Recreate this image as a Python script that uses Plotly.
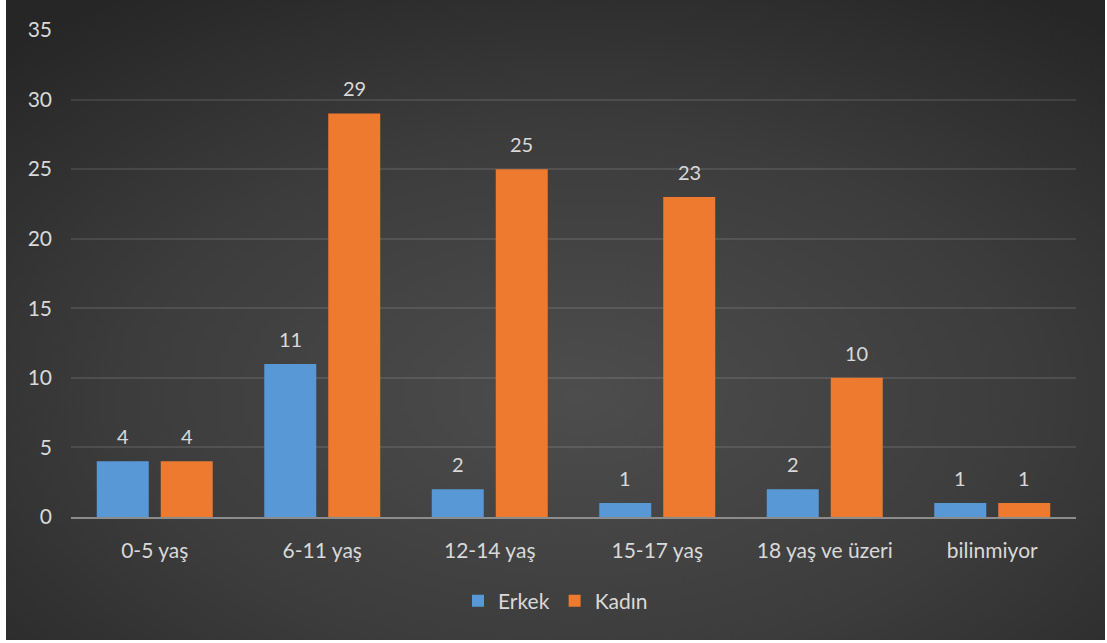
import base64
import plotly.graph_objects as go

categories = ["0-5 yaş", "6-11 yaş", "12-14 yaş", "15-17 yaş", "18 yaş ve üzeri", "bilinmiyor"]
erkek = [4, 11, 2, 1, 2, 1]
kadin = [4, 29, 25, 23, 10, 1]
series_names = ["Erkek", "Kadın"]
y_ticks = [0, 5, 10, 15, 20, 25, 30, 35]

FONT = "Lato"
TXT = "#d9d9d9"

svg = """<svg xmlns='http://www.w3.org/2000/svg' width='1100' height='640' viewBox='0 0 1100 640' preserveAspectRatio='none'>
<defs><radialGradient id='g' cx='0.52' cy='0.62' r='0.75' fx='0.52' fy='0.62'>
<stop offset='0' stop-color='#4d4d4d'/><stop offset='0.55' stop-color='#3c3c3c'/><stop offset='1' stop-color='#262626'/>
</radialGradient></defs><rect width='1100' height='640' fill='url(#g)'/></svg>"""
bg_src = "data:image/svg+xml;base64," + base64.b64encode(svg.encode()).decode()

L, R, T, B = 71, 31, 30, 126
W, H = 1107, 643
pw, ph = W - L - R, H - T - B

fig = go.Figure()
fig.add_trace(go.Bar(name=series_names[0], x=categories, y=erkek, marker=dict(color="#5898d6", line=dict(width=0))))
fig.add_trace(go.Bar(name=series_names[1], x=categories, y=kadin, marker=dict(color="#ee7a30", line=dict(width=0))))

annotations = []
for vals, dx in ((erkek, -32), (kadin, 32)):
    for c, v in zip(categories, vals):
        annotations.append(dict(x=c, y=v, xref="x", yref="y", text=str(v), showarrow=False,
                                xshift=dx, yshift=25, yanchor="middle",
                                font=dict(family=FONT, size=20, color=TXT)))

fig.update_layout(
    width=W, height=H,
    margin=dict(l=L, r=R, t=T, b=B),
    paper_bgcolor="white",
    plot_bgcolor="rgba(0,0,0,0)",
    barmode="group", bargap=0.236, bargroupgap=0.1875,
    font=dict(family=FONT, size=21, color=TXT),
    showlegend=True,
    legend=dict(orientation="h", x=(555.5 - L) / pw, xanchor="center",
                y=(T + ph - 601) / ph, yanchor="middle",
                font=dict(family=FONT, size=21, color=TXT), bgcolor="rgba(0,0,0,0)",
                itemsizing="constant"),
    annotations=annotations,
    images=[dict(source=bg_src, xref="paper", yref="paper",
                 x=(6 - L) / pw, y=(T + ph - 0) / ph,
                 sizex=(1105 - 6) / pw, sizey=640 / ph,
                 xanchor="left", yanchor="top", sizing="stretch", layer="below")],
    xaxis=dict(showgrid=False, showline=True, linecolor="#8c8c8c", linewidth=2,
               ticks="", ticklabelstandoff=14, tickfont=dict(family=FONT, size=21, color=TXT)),
    yaxis=dict(range=[0, 35], tickvals=y_ticks, showgrid=True, gridcolor="rgba(255,255,255,0.1)",
               gridwidth=1.5, zeroline=False, showline=False, ticks="", ticklabelstandoff=18,
               tickfont=dict(family=FONT, size=21, color=TXT)),
)

fig.write_html("out.html")
